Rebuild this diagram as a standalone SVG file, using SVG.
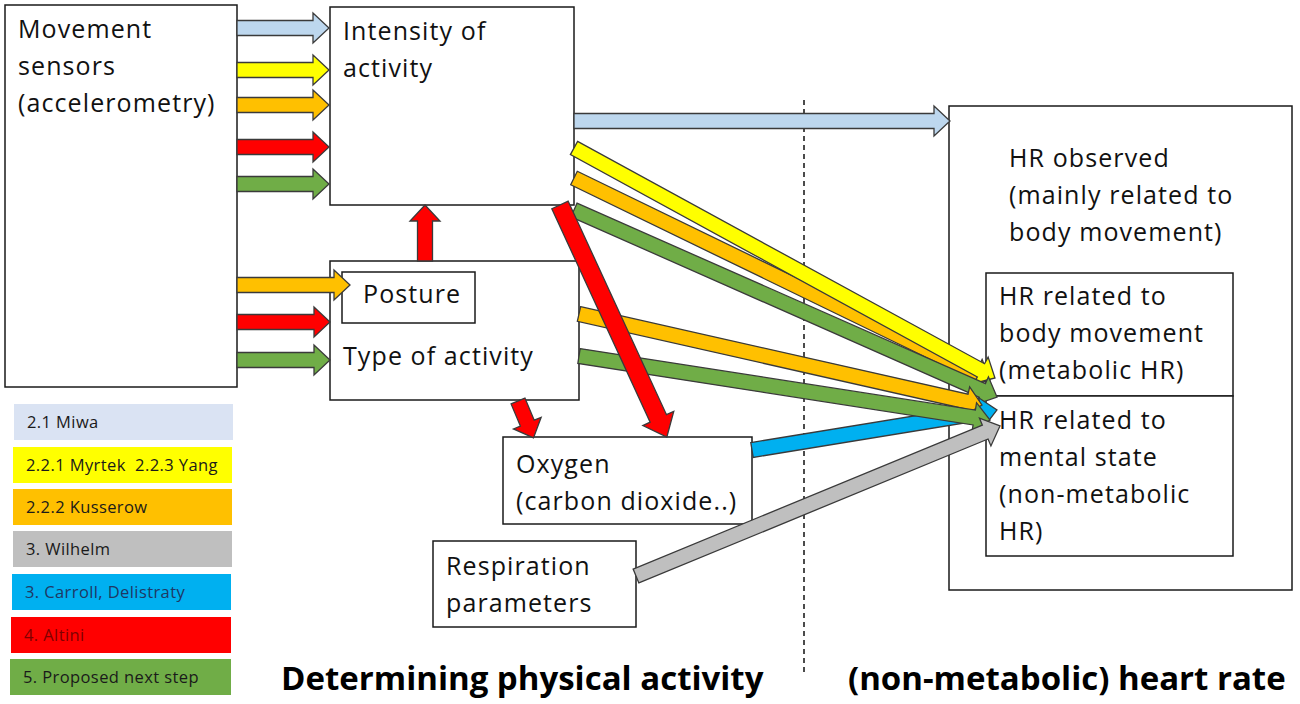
<svg xmlns="http://www.w3.org/2000/svg" width="1300" height="704" viewBox="0 0 1300 704">
<style>
.box{fill:#fff;stroke:#1a1a1a;stroke-width:1.5}
.t{font-family:"Open Sans","Liberation Sans",sans-serif;font-size:25px;letter-spacing:1.1px;fill:#111}
.lg{font-family:"Open Sans","Liberation Sans",sans-serif;font-size:16.5px;letter-spacing:0.4px;fill:#1a1a1a}
.ttl{font-family:"Open Sans","Liberation Sans",sans-serif;font-size:33px;font-weight:bold;fill:#000}
.ar{stroke:#3a3a3a;stroke-width:1.3;stroke-linejoin:miter}
.lb{fill:#bdd7ee}.ye{fill:#ffff00}.or{fill:#ffc000}.rd{fill:#ff0000}.gr{fill:#70ad47}.cy{fill:#00b0f0}.gy{fill:#bfbfbf}
</style>
<rect width="1300" height="704" fill="#fff"/>

<g id="hr-observed">
<rect class="box" x="949" y="106" width="343" height="484"/>
<text class="t" x="1009" y="167">HR observed</text>
<text class="t" x="1009" y="204">(mainly related to</text>
<text class="t" x="1009" y="241">body movement)</text>
</g>
<g id="hr-metabolic">
<rect class="box" x="986" y="273" width="247" height="123"/>
<text class="t" x="999" y="305">HR related to</text>
<text class="t" x="999" y="342">body movement</text>
<text class="t" x="999" y="379">(metabolic HR)</text>
</g>
<g id="hr-mental">
<rect class="box" x="986" y="396" width="247" height="160"/>
<text class="t" x="999" y="429">HR related to</text>
<text class="t" x="999" y="466">mental state</text>
<text class="t" x="999" y="503">(non-metabolic</text>
<text class="t" x="999" y="540">HR)</text>
</g>

<g id="divider">
<line x1="804" y1="100" x2="804" y2="672" stroke="#111" stroke-width="1.5" stroke-dasharray="5,4"/>
</g>

<g id="movement-sensors">
<rect class="box" x="5" y="5" width="232" height="382"/>
<text class="t" x="18" y="38">Movement</text>
<text class="t" x="18" y="75">sensors</text>
<text class="t" x="18" y="112">(accelerometry)</text>
</g>
<g id="intensity">
<rect class="box" x="330" y="7" width="244" height="198"/>
<text class="t" x="343" y="40">Intensity of</text>
<text class="t" x="343" y="77">activity</text>
</g>
<g id="type-of-activity">
<rect class="box" x="330" y="261" width="249" height="139"/>
<text class="t" x="343" y="365">Type of activity</text>
</g>
<g id="posture">
<rect class="box" x="342" y="272" width="133" height="51"/>
<text class="t" x="363" y="303">Posture</text>
</g>
<g id="oxygen">
<rect class="box" x="503" y="437" width="249" height="87"/>
<text class="t" x="516" y="473">Oxygen</text>
<text class="t" x="516" y="510">(carbon dioxide..)</text>
</g>
<g id="respiration">
<rect class="box" x="433" y="541" width="203" height="86"/>
<text class="t" x="446" y="575">Respiration</text>
<text class="t" x="446" y="612">parameters</text>
</g>

<g id="connectors">
<!-- sensors to intensity -->
<path class="ar lb" transform="translate(237,28)" d="M0,-7.5H76V-15L92,0L76,15V7.5H0Z"/>
<path class="ar ye" transform="translate(237,70)" d="M0,-7.5H76V-15L92,0L76,15V7.5H0Z"/>
<path class="ar or" transform="translate(237,105)" d="M0,-7.5H76V-15L92,0L76,15V7.5H0Z"/>
<path class="ar rd" transform="translate(237,147)" d="M0,-7.5H76V-15L92,0L76,15V7.5H0Z"/>
<path class="ar gr" transform="translate(237,184)" d="M0,-7.5H76V-15L92,0L76,15V7.5H0Z"/>
<!-- sensors to posture / type -->
<path class="ar or" transform="translate(237,285)" d="M0,-7.5H97V-15L113,0L97,15V7.5H0Z"/>
<path class="ar rd" transform="translate(237,322)" d="M0,-7.5H77V-15L93,0L77,15V7.5H0Z"/>
<path class="ar gr" transform="translate(237,360)" d="M0,-7.5H77V-15L93,0L77,15V7.5H0Z"/>
<!-- type to intensity -->
<path class="ar rd" transform="translate(425,261) rotate(-90)" d="M0,-7.5H40V-15L56,0L40,15V7.5H0Z"/>
<!-- intensity to HR (light blue) -->
<path class="ar lb" transform="translate(574,121)" d="M0,-7.5H360V-15L376,0L360,15V7.5H0Z"/>
<!-- diagonals to HR -->
<path class="ar or" transform="translate(574,178) rotate(25.9)" d="M0,-7.5H446.4V-15L462.4,0L446.4,15V7.5H0Z"/>
<path class="ar ye" transform="translate(574,148) rotate(28.65)" d="M0,-7.5H463.7V-15L479.7,0L463.7,15V7.5H0Z"/>
<path class="ar gr" transform="translate(574,210) rotate(23.85)" d="M0,-7.5H446.5V-15L462.5,0L446.5,15V7.5H0Z"/>
<path class="ar cy" transform="translate(752,450) rotate(-9.27)" d="M0,-7.5H232.2V-15L248.2,0L232.2,15V7.5H0Z"/>
<path class="ar or" transform="translate(579,314) rotate(12.72)" d="M0,-7.5H397.1V-15L413.1,0L397.1,15V7.5H0Z"/>
<path class="ar gr" transform="translate(579,356) rotate(8.85)" d="M0,-7.5H400V-15L416,0L400,15V7.5H0Z"/>
<path class="ar gy" transform="translate(636,576) rotate(-22.4)" d="M0,-7.5H377.7V-15L393.7,0L377.7,15V7.5H0Z"/>
<!-- red to oxygen -->
<path class="ar rd" transform="translate(560,205) rotate(65.27)" d="M0,-9H235V-17L255.4,0L235,17V9H0Z"/>
<path class="ar rd" transform="translate(518,401) rotate(67.2)" d="M0,-7.5H24V-15L40,0L24,15V7.5H0Z"/>
</g>

<g id="legend">
<rect x="14" y="404" width="219" height="36" fill="#dae3f3"/>
<text class="lg" x="27" y="428">2.1 Miwa</text>
<rect x="13" y="447" width="219" height="36" fill="#ffff00"/>
<text class="lg" x="26" y="471">2.2.1 Myrtek&#160; 2.2.3 Yang</text>
<rect x="13" y="489" width="219" height="36" fill="#ffc000"/>
<text class="lg" x="26" y="513">2.2.2 Kusserow</text>
<rect x="13" y="531" width="219" height="36" fill="#bfbfbf"/>
<text class="lg" x="26" y="555">3. Wilhelm</text>
<rect x="12" y="574" width="219" height="36" fill="#00b0f0"/>
<text class="lg" x="25" y="598" style="fill:#1f3864">3. Carroll, Delistraty</text>
<rect x="11" y="617" width="220" height="36" fill="#ff0000"/>
<text class="lg" x="24" y="641" style="fill:#7f0000">4. Altini</text>
<rect x="10" y="659" width="221" height="36" fill="#70ad47"/>
<text class="lg" x="23" y="683">5. Proposed next step</text>
</g>

<g id="titles">
<text class="ttl" x="281" y="690">Determining physical activity</text>
<text class="ttl" x="848" y="690">(non-metabolic) heart rate</text>
</g>
</svg>
